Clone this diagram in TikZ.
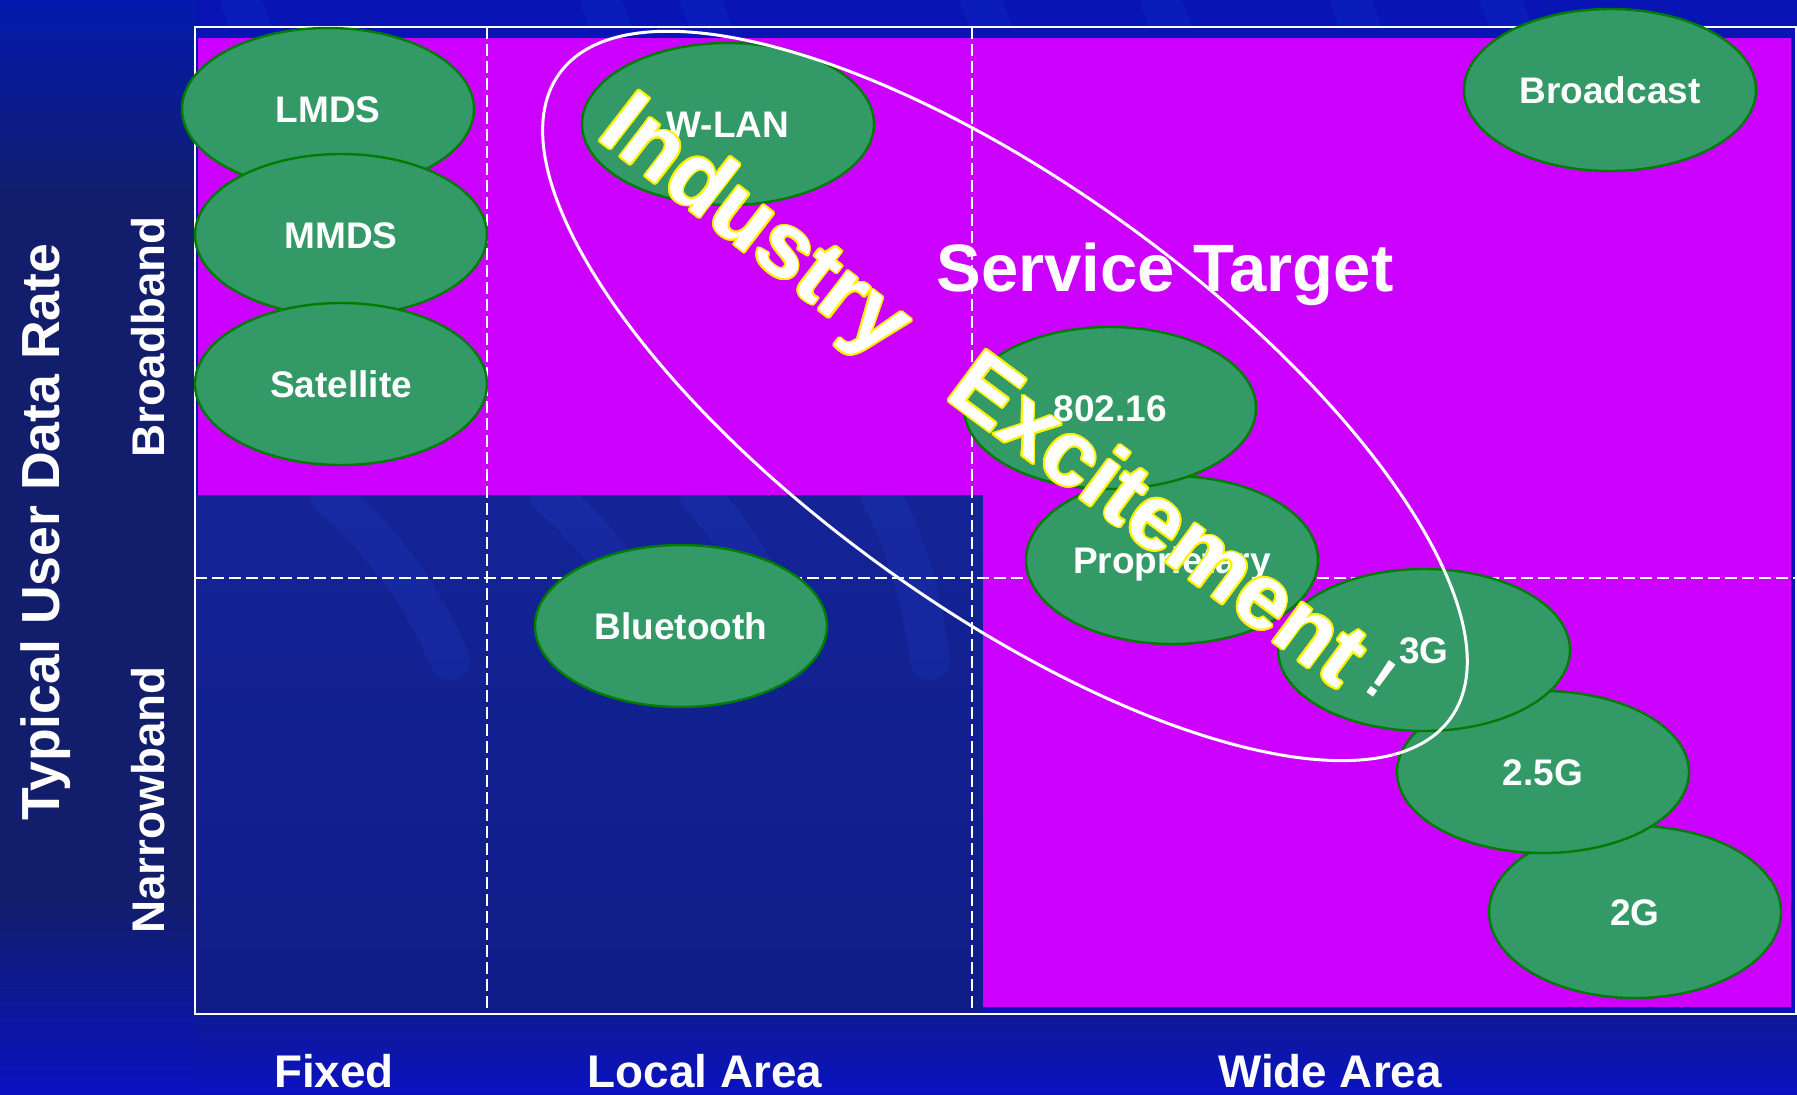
\documentclass[tikz,border=0pt]{standalone}
\usepackage{fontspec}
\setmainfont{Liberation Sans}
\usepackage{contour}
\contourlength{0.9pt}
\usetikzlibrary{shapes.geometric}
\definecolor{magentaA}{RGB}{204,0,255}
\definecolor{ellfill}{RGB}{51,153,102}
\definecolor{ellline}{RGB}{0,125,0}
\definecolor{bgBlue}{RGB}{8,20,180}
\definecolor{bgTop}{RGB}{4,26,175}
\definecolor{bgNavy}{RGB}{18,30,108}
\definecolor{bgLow}{RGB}{10,18,192}
\definecolor{bandTop}{RGB}{14,26,150}
\definecolor{innerTop}{RGB}{20,36,150}
\definecolor{innerBot}{RGB}{16,28,135}
\definecolor{ray}{RGB}{40,90,255}
\begin{document}
\begin{tikzpicture}[x=0.5pt,y=-0.5pt,
  oval/.style={ellipse, draw=ellline, line width=1.2pt, fill=ellfill,
    minimum width=146pt, minimum height=81pt, inner sep=0pt, text=white,
    font=\bfseries\fontsize{18.5}{20}\selectfont, text height=13.2pt, text depth=0pt},
  grid/.style={white, line width=0.9pt, dash pattern=on 6pt off 2.5pt},
  axislab/.style={text=white, inner sep=0pt, anchor=base, font=\bfseries\fontsize{22.9}{24}\selectfont},
  wordart/.style={text=white, inner sep=0pt, font=\bfseries\fontsize{46}{48}\selectfont},
  rays/.style={ray, line width=20pt, opacity=0.12, line cap=round}]
\useasboundingbox (0,0) rectangle (1797,1094);
% ---------- background ----------
\fill[bgBlue] (0,0) rectangle (1797,1094);
\shade[top color=bgTop, bottom color=bgNavy] (0,0) rectangle (196,200);
\fill[bgNavy] (0,199) rectangle (196,901);
\shade[top color=bgNavy, bottom color=bgLow] (0,900) rectangle (196,1094);
\shade[top color=bandTop, bottom color=bgLow] (195,1014) rectangle (1797,1094);
\shade[top color=innerTop, bottom color=innerBot] (195,495) rectangle (983,1014);
\begin{scope}
  \clip (195,495) rectangle (983,1014);
  \draw[rays] (330,495) .. controls (380,540) and (420,590) .. (450,660);
  \draw[rays] (550,495) .. controls (600,540) and (640,590) .. (670,660);
  \draw[rays] (700,495) .. controls (740,540) and (770,590) .. (790,660);
  \draw[rays] (880,495) .. controls (905,540) and (920,590) .. (930,660);
\end{scope}
\begin{scope}
  \clip (195,0) rectangle (1797,27);
  \foreach \xx in {240,600,700,980,1160,1350,1500}
    \draw[rays] (\xx,0) -- (\xx+12,30);
\end{scope}
% ---------- magenta service area ----------
\fill[magentaA] (198,38) -- (1791,38) -- (1791,1007) -- (983,1007)
  -- (983,495) -- (198,495) -- cycle;
% ---------- grid and frame ----------
\coordinate (g1t) at (487,27.4);  \coordinate (g1b) at (487,1014);
\coordinate (g2t) at (972,27.4);  \coordinate (g2b) at (972,1014);
\coordinate (hl) at (195,578);    \coordinate (hr) at (1795.5,578);
\draw[grid] (g1t) -- (g1b);
\draw[grid] (g2t) -- (g2b);
\draw[grid] (hl) -- (hr);
\draw[white, line width=1pt] (195,27.4) rectangle (1795.5,1014);
% ---------- technology ovals ----------
\node[oval] (lmds) at (328,109) {LMDS};
\node[oval] (mmds) at (341,235) {MMDS};
\node[oval] (sat)  at (341,384) {Satellite};
\node[oval] (wlan) at (728,124) {W-LAN};
\node[oval] (bcast) at (1610,90) {Broadcast};
\node[oval] (blue) at (681,626) {Bluetooth};
\node[oval, minimum height=86pt] (g2) at (1635,912) {2G};
\node[oval] (g25) at (1543,772) {2.5G};
\node[oval, minimum height=84pt] (prop) at (1172,560) {Proprietary};
\node[oval] (g3) at (1424,650) {3G};
\node[oval] (w16) at (1110,408) {802.16};
% ---------- industry excitement outline ----------
\coordinate (hot) at (1005,396);
\draw[white, line width=1.5pt, rotate around={-35.9:(hot)}]
  (hot) ellipse [x radius=275pt, y radius=105pt];
% ---------- texts ----------
\node[text=white, inner sep=0pt, anchor=base, font=\bfseries\fontsize{33.5}{36}\selectfont]
  (svc) at (1165,291) {Service Target};
\node[wordart, rotate=-37.7] (ind) at (753,230) {\contour{yellow}{Industry}};
\node[wordart, rotate=-36.6] (exc) at (1160,518) {\contour{yellow}{Excitement}};
\node[text=white, inner sep=0pt, rotate=-35, font=\bfseries\fontsize{28.5}{30}\selectfont]
  (bang) at (1381,679) {!};
\node[axislab, rotate=90, font=\bfseries\fontsize{26.8}{28}\selectfont]
  (ylab) at (59,532) {Typical User Data Rate};
\node[axislab, rotate=90] (bb) at (164.6,337) {Broadband};
\node[axislab, rotate=90] (nb) at (164.6,800) {Narrowband};
\node[axislab] (fx) at (334,1087) {Fixed};
\node[axislab] (la) at (705,1087) {Local Area};
\node[axislab] (wa) at (1330,1087) {Wide Area};
\end{tikzpicture}
\end{document}
